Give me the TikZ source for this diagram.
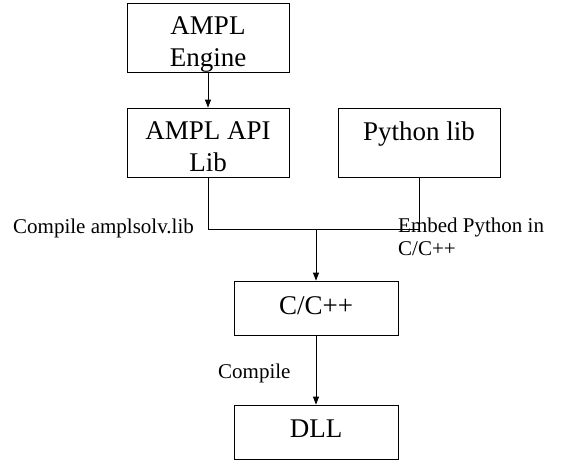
\documentclass[tikz,border=0pt]{standalone}
\usepackage{fontspec}
\setmainfont{Liberation Serif}
\usetikzlibrary{arrows.meta}
\begin{document}
\begin{tikzpicture}[x=1pt,y=-1pt,
  box/.style={draw, line width=0.8pt, inner sep=0pt, align=flush center, font=\fontsize{27}{32}\selectfont},
  twoline/.style={text width=150pt, text height=14pt, text depth=20pt},
  lbl/.style={font=\fontsize{21}{23}\selectfont, inner sep=0pt},
  arr/.style={-{Triangle[length=8pt,width=6pt]}, line width=0.8pt},
  conn/.style={line width=0.8pt}]
\useasboundingbox (0,0) rectangle (564,461);
\node[box, twoline, minimum width=162pt, minimum height=69pt] (eng) at (208,37.5) {AMPL\\Engine};
\node[box, twoline, minimum width=162pt, minimum height=69pt] (api) at (208,142.5) {AMPL API\\Lib};
\node[box, text height=10pt, text depth=15pt, minimum width=162pt, minimum height=69pt] (py) at (419,142.5) {Python lib};
\node[box, text height=16pt, text depth=4pt, minimum width=164pt, minimum height=54pt] (cpp) at (316,308) {C/C++};
\node[box, text height=15pt, text depth=5pt, minimum width=164pt, minimum height=54pt] (dll) at (316,432) {DLL};
\coordinate (j) at (316,229);
\draw[arr] (eng) -- (api);
\draw[conn] (api.south) |- (j);
\draw[conn] (py.south) |- (j);
\draw[arr] (j) -- (cpp);
\draw[arr] (cpp) -- (dll);
\node[lbl, anchor=base west] (l1) at (13,233) {Compile amplsolv.lib};
\node[lbl, anchor=base west, text width=160pt, align=flush left] (l2) at (398,232) {Embed Python in\\C/C++};
\node[lbl, anchor=base west] (l3) at (218,378) {Compile};
\end{tikzpicture}
\end{document}
